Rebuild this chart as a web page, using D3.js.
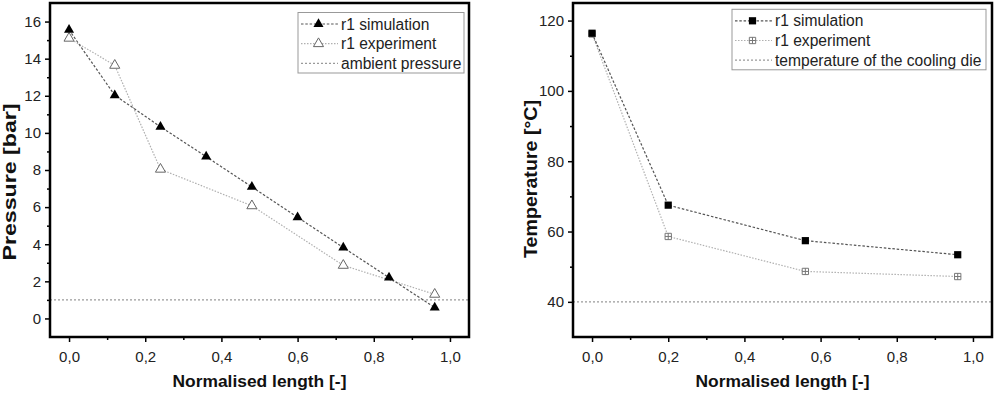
<!DOCTYPE html>
<html>
<head>
<meta charset="utf-8">
<script src="https://d3js.org/d3.v7.min.js"></script>
<style>
  body { margin: 0; background: #fff; }
  svg { font-family: "Liberation Sans", Arial, sans-serif; }
  .tick text { fill: #222; font-size: 15px; }
  .tick line { stroke: #000; stroke-width: 1.5; }
</style>
</head>
<body>
<svg id="chart" width="996" height="393"></svg>
<script>
// pressure panel
var pSimX = [0, 0.12, 0.24, 0.36, 0.48, 0.60, 0.72, 0.84, 0.96];
var pSimY = [15.55, 12.03, 10.33, 8.72, 7.09, 5.45, 3.82, 2.2, 0.59];
var pExpX = [0, 0.12, 0.24, 0.48, 0.72, 0.96];
var pExpY = [15.1, 13.64, 8.04, 6.07, 2.86, 1.3];
var ambientPressure = 1;
var pTicks = [0, 2, 4, 6, 8, 10, 12, 14, 16];
var pLegend = ["r1 simulation", "r1 experiment", "ambient pressure"];

// temperature panel
var tSimX = [0, 0.2, 0.56, 0.96];
var tSimY = [116.4, 67.5, 57.4, 53.4];
var tExpX = [0, 0.2, 0.56, 0.96];
var tExpY = [116.2, 58.6, 48.65, 47.2];
var dieTemp = 40;
var tTicks = [40, 60, 80, 100, 120];
var tLegend = ["r1 simulation", "r1 experiment", "temperature of the cooling die"];

var xTicks = [0, 0.2, 0.4, 0.6, 0.8, 1.0];
var xMinor = [0.1, 0.3, 0.5, 0.7, 0.9];

var svg = d3.select("#chart");
var comma = function(d) { return d3.format(".1f")(d).replace(".", ","); };

function panel(opt) {
  var x = d3.scaleLinear().domain([-0.05, 1.05]).range([opt.left, opt.right]);
  var y = d3.scaleLinear().domain(opt.yDomain).range([opt.bottom, opt.top]);
  var g = svg.append("g");

  // minor ticks first
  g.append("g")
    .attr("transform", "translate(0," + opt.bottom + ")")
    .call(d3.axisBottom(x).tickValues(xMinor).tickSize(3).tickFormat(""));
  g.append("g")
    .attr("transform", "translate(" + opt.left + ",0)")
    .call(d3.axisLeft(y).tickValues(opt.yMinor).tickSize(3).tickFormat(""));

  g.append("g")
    .attr("transform", "translate(0," + opt.bottom + ")")
    .call(d3.axisBottom(x).tickValues(xTicks).tickSize(5).tickPadding(9).tickFormat(comma));
  g.append("g")
    .attr("transform", "translate(" + opt.left + ",0)")
    .call(d3.axisLeft(y).tickValues(opt.yTicks).tickSize(5).tickPadding(4));
  g.selectAll(".domain").remove();

  // reference line
  g.append("line")
    .attr("x1", opt.left).attr("x2", opt.right)
    .attr("y1", y(opt.refValue)).attr("y2", y(opt.refValue))
    .attr("stroke", "#9a9a9a").attr("stroke-width", 1.2)
    .attr("stroke-dasharray", "2,2");

  var line = d3.line()
    .x(function(d) { return x(d[0]); })
    .y(function(d) { return y(d[1]); });

  var exp = d3.zip(opt.expX, opt.expY);
  var sim = d3.zip(opt.simX, opt.simY);

  g.append("path")
    .datum(exp)
    .attr("d", line)
    .attr("fill", "none").attr("stroke", "#b0b0b0")
    .attr("stroke-width", 1.2).attr("stroke-dasharray", "1.5,1.5");
  g.append("path")
    .datum(sim)
    .attr("d", line)
    .attr("fill", "none").attr("stroke", "#555")
    .attr("stroke-width", 1.2).attr("stroke-dasharray", "2.5,1.8");

  g.selectAll(".exp").data(exp).enter()
    .append("g")
    .attr("transform", function(d) { return "translate(" + x(d[0]) + "," + y(d[1]) + ")"; })
    .each(function() { opt.expMarker(d3.select(this)); });
  g.selectAll(".sim").data(sim).enter()
    .append("g")
    .attr("transform", function(d) { return "translate(" + x(d[0]) + "," + y(d[1]) + ")"; })
    .each(function() { opt.simMarker(d3.select(this)); });

  // frame
  g.append("rect")
    .attr("x", opt.left).attr("y", opt.top)
    .attr("width", opt.right - opt.left).attr("height", opt.bottom - opt.top)
    .attr("fill", "none").attr("stroke", "#000").attr("stroke-width", 2.5);

  // axis titles
  g.append("text")
    .attr("x", (opt.left + opt.right) / 2).attr("y", 387)
    .attr("text-anchor", "middle")
    .attr("font-size", "17.4px").attr("font-weight", "bold").attr("fill", "#111")
    .text("Normalised length [-]");
  g.append("text")
    .attr("transform", "translate(" + opt.titleX + "," + opt.titleY + ") rotate(-90)")
    .attr("text-anchor", "middle")
    .attr("font-size", "19px").attr("font-weight", "bold").attr("fill", "#111")
    .attr("textLength", opt.titleLen).attr("lengthAdjust", "spacingAndGlyphs")
    .text(opt.yTitle);

  // legend
  var lg = g.append("g");
  lg.append("rect")
    .attr("x", opt.legX).attr("y", opt.legY)
    .attr("width", opt.legW).attr("height", 60.5)
    .attr("fill", "#fff").attr("stroke", "#999").attr("stroke-width", 1);
  var rows = [
    {stroke: "#555", dash: "2.5,1.8", marker: opt.simMarker},
    {stroke: "#b0b0b0", dash: "1.5,1.5", marker: opt.expMarker},
    {stroke: "#9a9a9a", dash: "2,2", marker: null}
  ];
  rows.forEach(function(r, i) {
    var cy = opt.legY + 11.5 + i * 19.7;
    lg.append("line")
      .attr("x1", opt.legX + 3).attr("x2", opt.legX + 40)
      .attr("y1", cy).attr("y2", cy)
      .attr("stroke", r.stroke).attr("stroke-width", 1.2)
      .attr("stroke-dasharray", r.dash);
    if (r.marker) {
      var m = lg.append("g").attr("transform", "translate(" + (opt.legX + 20.5) + "," + cy + ")");
      r.marker(m);
    }
    lg.append("text")
      .attr("x", opt.legX + 43).attr("y", cy + 5.5)
      .attr("font-size", "15.6px").attr("fill", "#222")
      .text(opt.legend[i]);
  });
}

function filledTriangle(s) {
  s.append("path").attr("d", d3.symbol(d3.symbolTriangle, 44)).attr("fill", "#000");
}
function openTriangle(s) {
  s.append("path").attr("d", d3.symbol(d3.symbolTriangle, 44))
    .attr("fill", "#fff").attr("stroke", "#666").attr("stroke-width", 1);
}
function filledSquare(s) {
  s.append("path").attr("d", d3.symbol(d3.symbolSquare, 52)).attr("fill", "#000");
}
function crossSquare(s) {
  s.append("path").attr("d", d3.symbol(d3.symbolSquare, 40))
    .attr("fill", "#fff").attr("stroke", "#777").attr("stroke-width", 1);
  s.append("path").attr("d", "M-3.2,0H3.2M0,-3.2V3.2")
    .attr("stroke", "#777").attr("stroke-width", 1);
}

panel({
  left: 50, right: 469, top: 3, bottom: 337,
  yDomain: [-1, 17], yTicks: pTicks, yMinor: [1, 3, 5, 7, 9, 11, 13, 15],
  simX: pSimX, simY: pSimY, expX: pExpX, expY: pExpY, refValue: ambientPressure,
  simMarker: filledTriangle, expMarker: openTriangle,
  yTitle: "Pressure [bar]", titleX: 16, titleY: 182, titleLen: 157,
  legX: 298, legY: 12.5, legW: 166, legend: pLegend
});

panel({
  left: 573, right: 992, top: 3, bottom: 337,
  yDomain: [30, 125], yTicks: tTicks, yMinor: [50, 70, 90, 110],
  simX: tSimX, simY: tSimY, expX: tExpX, expY: tExpY, refValue: dieTemp,
  simMarker: filledSquare, expMarker: crossSquare,
  yTitle: "Temperature [°C]", titleX: 537, titleY: 179, titleLen: 158,
  legX: 732, legY: 9.3, legW: 254, legend: tLegend
});
</script>
</body>
</html>
